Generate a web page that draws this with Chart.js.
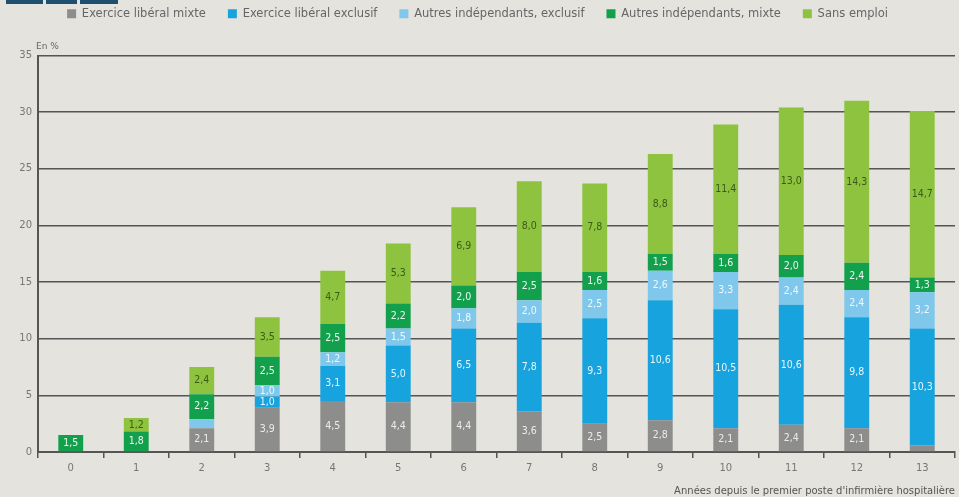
<!DOCTYPE html>
<html>
<head>
<meta charset="utf-8">
<script src="https://cdn.jsdelivr.net/npm/chart.js@4.4.1/dist/chart.umd.min.js"></script>
<style>
    html, body { margin: 0; padding: 0; background: #e5e3de; }
    #wrap { position: relative; width: 959px; height: 497px; }
    .tab { position: absolute; top: 0; height: 4px; background: #1f4f6e; }
</style>
</head>
<body>
<div id="wrap">
    <div class="tab" style="left:6px;width:37px"></div>
    <div class="tab" style="left:46px;width:31px"></div>
    <div class="tab" style="left:80px;width:38px"></div>
    <canvas id="NurseChart" width="959" height="497"></canvas>
</div>
<script>
const years = ["0", "1", "2", "3", "4", "5", "6", "7", "8", "9", "10", "11", "12", "13"];
const liberalMixte = [0, 0, 2.1, 3.9, 4.5, 4.4, 4.4, 3.6, 2.5, 2.8, 2.1, 2.4, 2.1, 0.6];
const liberalExclusif = [0, 0, 0, 1.0, 3.1, 5.0, 6.5, 7.8, 9.3, 10.6, 10.5, 10.6, 9.8, 10.3];
const autresExclusif = [0, 0, 0.8, 1.0, 1.2, 1.5, 1.8, 2.0, 2.5, 2.6, 3.3, 2.4, 2.4, 3.2];
const autresMixte = [1.5, 1.8, 2.2, 2.5, 2.5, 2.2, 2.0, 2.5, 1.6, 1.5, 1.6, 2.0, 2.4, 1.3];
const sansEmploi = [0, 1.2, 2.4, 3.5, 4.7, 5.3, 6.9, 8.0, 7.8, 8.8, 11.4, 13.0, 14.3, 14.7];
const yTicks = [0, 5, 10, 15, 20, 25, 30, 35];

function NurseChart() {
    const ctx = document.getElementById("NurseChart");

    const bar = (label, data, color, textColor) => ({
        label: label,
        data: data,
        backgroundColor: color,
        borderWidth: 0,
        barPercentage: 0.38,
        categoryPercentage: 1,
        textColor: textColor,
    });

    new Chart(ctx, {
        type: "bar",
        data: {
            labels: years,
            datasets: [
                bar("Exercice libéral mixte", liberalMixte, "#8d8d8b", "#ececec"),
                bar("Exercice libéral exclusif", liberalExclusif, "#17a3dd", "#e8f6fd"),
                bar("Autres indépendants, exclusif", autresExclusif, "#7fc8ec", "#eef8fd"),
                bar("Autres indépendants, mixte", autresMixte, "#13a04c", "#e9f7ee"),
                bar("Sans emploi", sansEmploi, "#8dc33e", "#3d5a1a"),
            ],
        },
        options: {
            responsive: false,
            animation: false,
            layout: {
                padding: { top: -14, right: 4, left: 0, bottom: 0 },
            },
            plugins: {
                legend: {
                    position: "top",
                    labels: {
                        boxWidth: 9,
                        boxHeight: 9,
                        padding: 22,
                        color: "#666",
                        font: { family: "DejaVu Sans", size: 11.5 },
                    },
                },
                tooltip: { enabled: false },
            },
            scales: {
                x: {
                    stacked: true,
                    grid: {
                        offset: true,
                        drawOnChartArea: false,
                        drawTicks: true,
                        tickLength: 6,
                        color: "#555",
                        lineWidth: 1.5,
                    },
                    border: { display: true, color: "#555", width: 2 },
                    ticks: {
                        color: "#777",
                        padding: 4,
                        font: { family: "DejaVu Sans", size: 10 },
                    },
                    title: {
                        display: true,
                        text: "Années depuis le premier poste d'infirmière hospitalière",
                        align: "end",
                        color: "#555",
                        padding: { top: 7, bottom: 0 },
                        font: { family: "DejaVu Sans", size: 10 },
                    },
                },
                y: {
                    stacked: true,
                    min: 0,
                    max: 35,
                    afterFit(scale) {
                        scale.width = 38;
                    },
                    afterBuildTicks(scale) {
                        scale.ticks = yTicks.map((v) => ({ value: v }));
                    },
                    grid: {
                        color: "#555",
                        lineWidth: 1.5,
                        drawTicks: false,
                    },
                    border: { display: true, color: "#555", width: 2 },
                    ticks: {
                        color: "#777",
                        padding: 6,
                        font: { family: "DejaVu Sans", size: 10 },
                    },
                },
            },
        },
        plugins: [
            {
                // leave room under the legend for the "En %" unit
                id: "legendGap",
                beforeInit(chart) {
                    const fit = chart.legend.fit;
                    chart.legend.fit = function () {
                        fit.bind(chart.legend)();
                        this.height += 26;
                    };
                },
            },
            {
                id: "segmentLabels",
                afterDatasetsDraw(chart) {
                    const c = chart.ctx;
                    c.save();
                    c.font = "10.5px 'DejaVu Sans Condensed', 'DejaVu Sans'";
                    c.textAlign = "center";
                    c.textBaseline = "middle";
                    chart.data.datasets.forEach((ds, i) => {
                        chart.getDatasetMeta(i).data.forEach((el, j) => {
                            const v = ds.data[j];
                            if (v < 1) return;
                            const mid = (el.y + el.base) / 2;
                            c.fillStyle = ds.textColor;
                            c.fillText(v.toFixed(1).replace(".", ","), el.x, mid);
                        });
                    });
                    // unit label above the y axis
                    c.textAlign = "left";
                    c.textBaseline = "bottom";
                    c.fillStyle = "#666";
                    c.font = "9px 'DejaVu Sans'";
                    c.fillText("En %", chart.chartArea.left - 2, chart.chartArea.top - 4);
                    c.restore();
                },
            },
        ],
    });
}

NurseChart();
</script>
</body>
</html>
